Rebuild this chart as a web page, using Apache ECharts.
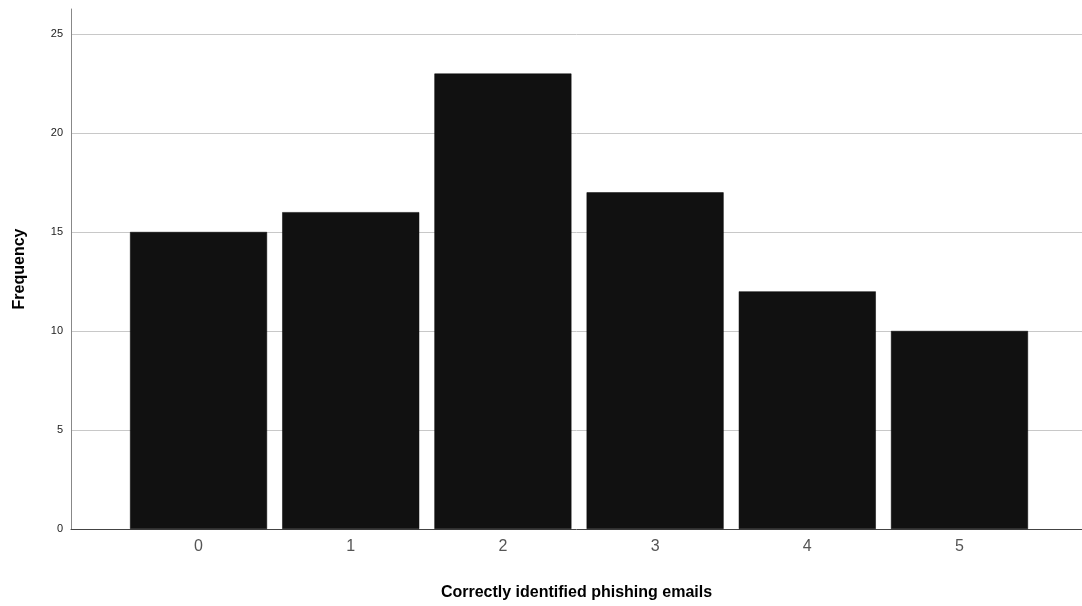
<!DOCTYPE html>
<html><head><meta charset="utf-8">
<script src="https://cdn.jsdelivr.net/npm/echarts@6/dist/echarts.min.js"></script>
<style>html,body{margin:0;padding:0;background:#fff}#c{width:1082px;height:606px}</style>
</head><body><div id="c"></div>
<script>
const categories = [0, 1, 2, 3, 4, 5];
const frequencies = [15, 16, 23, 17, 12, 10];
const yTicks = [0, 5, 10, 15, 20, 25];

const chart = echarts.init(document.getElementById('c'));
chart.setOption({
  animation: false,
  grid: {left: 71, right: 0, top: 9, bottom: 76},
  xAxis: {
    type: 'value', min: -0.838, max: 5.805,
    name: 'Correctly identified phishing emails', nameLocation: 'middle', nameGap: 56,
    nameTextStyle: {fontFamily: 'Liberation Sans', fontWeight: 'bold', fontSize: 16, color: '#000'},
    axisLine: {show: true, onZero: false, lineStyle: {color: '#444', width: 1}},
    axisTick: {show: false},
    splitLine: {show: false},
    axisLabel: {customValues: categories, formatter: v => String(v), fontFamily: 'Liberation Sans', fontSize: 16, color: '#555', margin: 10}
  },
  yAxis: {
    type: 'value', min: 0, max: 26.26, interval: 5,
    name: 'Frequency', nameLocation: 'middle', nameGap: 43,
    nameTextStyle: {fontFamily: 'Liberation Sans', fontWeight: 'bold', fontSize: 16, color: '#000'},
    axisLine: {show: true, onZero: false, lineStyle: {color: '#888', width: 1}},
    axisTick: {show: false},
    splitLine: {show: true, showMaxLine: false, showMinLine: false, lineStyle: {color: '#c8c8c8', width: 1}},
    axisLabel: {customValues: yTicks, formatter: v => String(v), fontFamily: 'Liberation Sans', fontSize: 11, color: '#222', margin: 8}
  },
  series: [{
    type: 'bar',
    data: categories.map((c, i) => [c, frequencies[i]]),
    barWidth: 137,
    itemStyle: {color: '#111111', borderColor: '#000', borderWidth: 0.5}
  }]
});
</script></body></html>
